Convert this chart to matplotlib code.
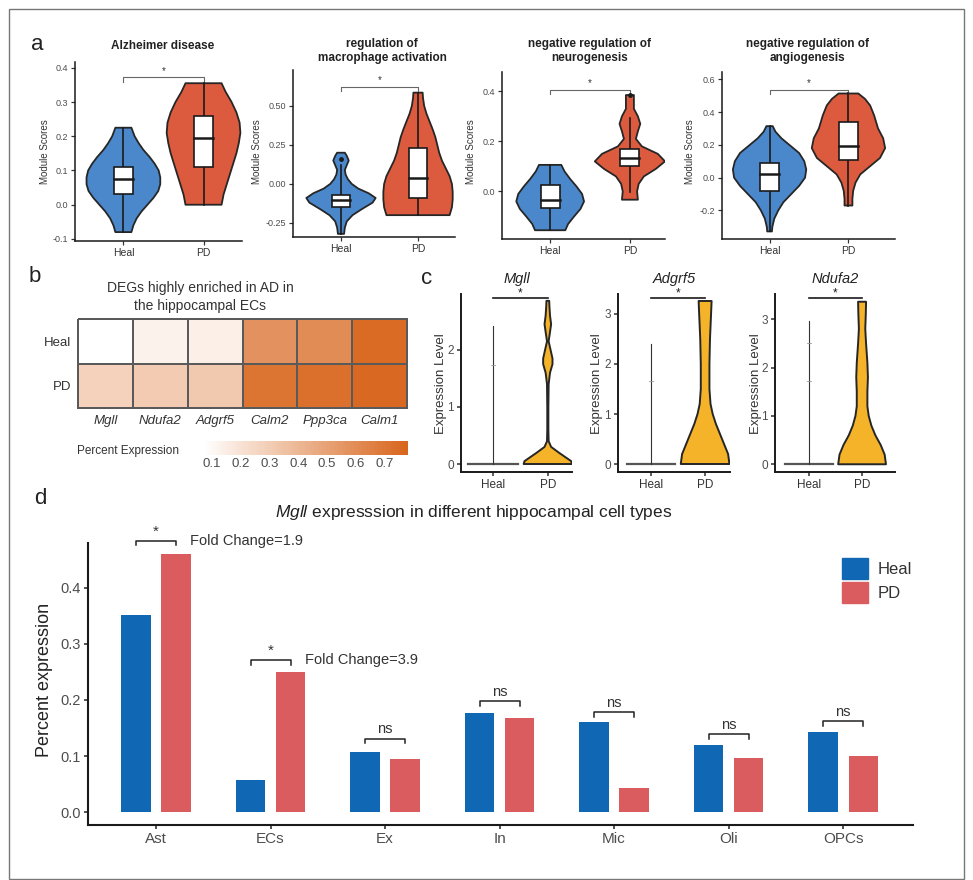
import numpy as np
import matplotlib
matplotlib.use("Agg")
import matplotlib.pyplot as plt
from matplotlib.patches import Rectangle, Patch
from matplotlib.colors import LinearSegmentedColormap

plt.rcParams['font.family'] = ['Liberation Sans', 'DejaVu Sans']
plt.rcParams['mathtext.fontset'] = 'custom'
plt.rcParams['mathtext.rm'] = 'Liberation Sans'
plt.rcParams['mathtext.it'] = 'Liberation Sans:italic'

# ---------------- data ----------------
groups = ["Heal", "PD"]

# panel a: module score violins (profile = y levels, full widths in x units)
a_titles = ["Alzheimer disease", "regulation of\nmacrophage activation",
            "negative regulation of\nneurogenesis", "negative regulation of\nangiogenesis"]
a_yticks = [[-0.1, 0.0, 0.1, 0.2, 0.3, 0.4], [-0.25, 0.0, 0.25, 0.5],
            [0.0, 0.2, 0.4], [-0.2, 0.0, 0.2, 0.4, 0.6]]
a_tickfmt = ["{:.1f}", "{:.2f}", "{:.1f}", "{:.1f}"]
a_heal_y = [
    [-0.08, -0.06, -0.04, -0.02, 0.0, 0.02, 0.04, 0.06, 0.08, 0.1, 0.12, 0.14, 0.16, 0.18, 0.2, 0.225],
    [-0.32, -0.28, -0.24, -0.2, -0.16, -0.12, -0.09, -0.06, -0.03, 0.0, 0.03, 0.06, 0.09, 0.12, 0.15, 0.18, 0.2],
    [-0.155, -0.13, -0.1, -0.07, -0.04, -0.01, 0.02, 0.05, 0.08, 0.106],
    [-0.328, -0.3, -0.25, -0.2, -0.15, -0.1, -0.05, 0.0, 0.05, 0.1, 0.15, 0.2, 0.24, 0.28, 0.314],
]
a_heal_w = [
    [0.2, 0.25, 0.33, 0.45, 0.6, 0.75, 0.87, 0.92, 0.92, 0.88, 0.78, 0.65, 0.5, 0.38, 0.28, 0.2],
    [0.08, 0.1, 0.15, 0.3, 0.55, 0.82, 0.9, 0.72, 0.45, 0.28, 0.18, 0.12, 0.1, 0.15, 0.2, 0.15, 0.1],
    [0.38, 0.45, 0.6, 0.76, 0.85, 0.8, 0.66, 0.5, 0.36, 0.28],
    [0.06, 0.07, 0.12, 0.22, 0.35, 0.55, 0.75, 0.9, 0.93, 0.88, 0.75, 0.5, 0.3, 0.15, 0.08],
]
a_pd_y = [
    [0.0, 0.03, 0.06, 0.09, 0.12, 0.15, 0.18, 0.21, 0.24, 0.27, 0.3, 0.33, 0.355],
    [-0.2, -0.15, -0.1, -0.05, 0.0, 0.05, 0.1, 0.15, 0.2, 0.25, 0.3, 0.35, 0.4, 0.45, 0.5, 0.55, 0.585],
    [-0.033, 0.0, 0.03, 0.06, 0.09, 0.12, 0.15, 0.18, 0.21, 0.24, 0.27, 0.3, 0.33, 0.36, 0.385],
    [-0.17, -0.13, -0.08, -0.03, 0.02, 0.07, 0.12, 0.18, 0.24, 0.3, 0.38, 0.44, 0.48, 0.513],
]
a_pd_w = [
    [0.45, 0.5, 0.58, 0.66, 0.74, 0.82, 0.88, 0.92, 0.9, 0.82, 0.7, 0.55, 0.45],
    [0.82, 0.88, 0.9, 0.9, 0.88, 0.82, 0.72, 0.62, 0.55, 0.5, 0.45, 0.38, 0.3, 0.22, 0.16, 0.13, 0.12],
    [0.2, 0.18, 0.22, 0.35, 0.65, 0.88, 0.7, 0.3, 0.15, 0.2, 0.26, 0.2, 0.1, 0.1, 0.1],
    [0.1, 0.1, 0.12, 0.18, 0.3, 0.55, 0.8, 0.93, 0.88, 0.75, 0.65, 0.55, 0.42, 0.25],
]
# box stats: low whisker, q1, median, q3, high whisker
a_heal_box = [[-0.08, 0.03, 0.075, 0.11, 0.225], [-0.32, -0.145, -0.105, -0.07, 0.12],
              [-0.155, -0.068, -0.036, 0.027, 0.106], [-0.328, -0.08, 0.02, 0.087, 0.314]]
a_pd_box = [[0.0, 0.11, 0.195, 0.26, 0.355], [-0.2, -0.09, 0.035, 0.23, 0.585],
            [-0.003, 0.1, 0.133, 0.17, 0.295], [-0.17, 0.107, 0.194, 0.34, 0.513]]
a_heal_out = [[], [0.16], [], []]
a_pd_out = [[], [], [0.385], []]
a_sig = [0.372, 0.62, 0.405, 0.537]

# panel b: percent expression heatmap
b_genes = ["Mgll", "Ndufa2", "Adgrf5", "Calm2", "Ppp3ca", "Calm1"]
b_heal = [0.07, 0.13, 0.145, 0.57, 0.6, 0.75]
b_pd = [0.28, 0.31, 0.32, 0.71, 0.73, 0.76]

# panel c: expression level violins
c_genes = ["Mgll", "Adgrf5", "Ndufa2"]
c_yticks = [[0, 1, 2], [0, 1, 2, 3], [0, 1, 2, 3]]
c_heal_max = [2.42, 2.4, 2.96]
c_heal_marks = [[1.74], [1.65], [1.72, 2.5]]
c_pd_y = [
    [0.0, 0.05, 0.1, 0.2, 0.3, 0.4, 0.6, 1.0, 1.4, 1.6, 1.75, 1.85, 2.0, 2.15, 2.25, 2.45, 2.6, 2.75, 2.86],
    [0.0, 0.2, 0.4, 0.6, 0.8, 1.0, 1.2, 1.5, 2.0, 2.5, 3.0, 3.26],
    [0.0, 0.2, 0.4, 0.6, 0.8, 1.0, 1.2, 1.5, 1.8, 2.1, 2.5, 2.8, 3.1, 3.36],
]
c_pd_w = [
    [0.88, 0.85, 0.7, 0.4, 0.12, 0.03, 0.02, 0.02, 0.03, 0.08, 0.17, 0.17, 0.1, 0.03, 0.06, 0.12, 0.08, 0.06, 0.05],
    [0.9, 0.85, 0.7, 0.55, 0.4, 0.28, 0.2, 0.16, 0.16, 0.18, 0.22, 0.24],
    [0.9, 0.85, 0.7, 0.5, 0.35, 0.25, 0.2, 0.2, 0.22, 0.2, 0.15, 0.12, 0.14, 0.15],
]

# panel d: Mgll percent expression per cell type
d_cells = ["Ast", "ECs", "Ex", "In", "Mic", "Oli", "OPCs"]
d_heal = [0.351, 0.057, 0.107, 0.177, 0.161, 0.120, 0.143]
d_pd = [0.461, 0.250, 0.095, 0.168, 0.043, 0.097, 0.100]
d_sig = ["*", "*", "ns", "ns", "ns", "ns", "ns"]
d_sig_y = [0.484, 0.271, 0.131, 0.198, 0.178, 0.139, 0.162]
d_fold = ["Fold Change=1.9", "Fold Change=3.9", "", "", "", "", ""]

BLUE_V, RED_V, ORANGE_V = "#4A88CB", "#DC5B3E", "#F5B32A"
BLUE_B, RED_B = "#1068B5", "#DA5C5E"

W, H = 973, 880
fig = plt.figure(figsize=(W / 100, H / 100), dpi=100)


def px_axes(l, t, r, b):
    return fig.add_axes([l / W, 1 - b / H, (r - l) / W, (b - t) / H])


def ftext(x, y, s, **kw):
    fig.text(x / W, 1 - y / H, s, **kw)


def classic(ax, lw=1.1, size=6.5):
    ax.spines['top'].set_visible(False)
    ax.spines['right'].set_visible(False)
    for s in ['left', 'bottom']:
        ax.spines[s].set_linewidth(lw)
        ax.spines[s].set_color('#1a1a1a')
    ax.tick_params(length=3, width=lw * 0.8, color='#333333', labelcolor='#4D4D4D',
                   labelsize=size, pad=2)


def violin(ax, x, ys, ws, color, lw=1.3):
    ys = np.array(ys)
    hw = np.array(ws) / 2
    xs = np.concatenate([x - hw, (x + hw)[::-1]])
    yy = np.concatenate([ys, ys[::-1]])
    ax.fill(xs, yy, facecolor=color, edgecolor='#262626', lw=lw, joinstyle='round', zorder=2)


# ---------------- panel a ----------------
a_box = [(75, 62, 242, 241), (293, 70, 455, 237), (502, 72, 665, 239), (722, 72, 895, 239)]
a_xlim = [(0.396, 2.48), (0.377, 2.48), (0.396, 2.44), (0.397, 2.59)]
a_ylim = [(-0.106, 0.417), (-0.34, 0.73), (-0.19, 0.477), (-0.374, 0.644)]
a_title_x = [163, 382, 590, 807]
a_title_y = [46, 51, 51, 51]
a_ylab_x = [45, 257, 471, 690]

for i in range(4):
    ax = px_axes(*a_box[i])
    ax.set_xlim(a_xlim[i])
    ax.set_ylim(a_ylim[i])
    classic(ax)
    sets = [(a_heal_y[i], a_heal_w[i], BLUE_V, a_heal_box[i], a_heal_out[i]),
            (a_pd_y[i], a_pd_w[i], RED_V, a_pd_box[i], a_pd_out[i])]
    bw = 0.24
    for g, (ys, ws, col, bx, outs) in enumerate(sets):
        x = g + 1
        violin(ax, x, ys, ws, col)
        lo, q1, med, q3, hi = bx
        ax.plot([x, x], [lo, hi], color='#1a1a1a', lw=1.2, zorder=3)
        ax.add_patch(Rectangle((x - bw / 2, q1), bw, q3 - q1, fc='white', ec='#1a1a1a', lw=1.2, zorder=4))
        ax.plot([x - bw / 2, x + bw / 2], [med, med], color='#1a1a1a', lw=1.8, zorder=5)
        for o in outs:
            ax.plot(x, o, 'o', ms=2.5, color='#1a1a1a', zorder=5)
    rng = a_ylim[i][1] - a_ylim[i][0]
    yb = a_sig[i]
    dy = 0.025 * rng
    ax.plot([1, 1, 2, 2], [yb - dy, yb, yb, yb - dy], color='#666666', lw=0.8, clip_on=False)
    ax.text(1.5, yb + 0.01 * rng, "*", ha='center', va='bottom', fontsize=7, color='#333333')
    ax.set_yticks(a_yticks[i])
    ax.set_yticklabels([a_tickfmt[i].format(v) for v in a_yticks[i]])
    ax.set_xticks([1, 2])
    ax.set_xticklabels(groups, fontsize=7.5, color='#333333')
    ftext(a_title_x[i], a_title_y[i], a_titles[i], ha='center', va='center', fontsize=8.5,
          fontweight='bold', color='#222222', linespacing=1.15)
    ftext(a_ylab_x[i], 152, "Module Scores", rotation=90, ha='center', va='center',
          fontsize=7, color='#333333')

# ---------------- panel b ----------------
cmap = LinearSegmentedColormap.from_list("wo", ["#FFFFFF", "#D8651C"])
axb = px_axes(78, 319, 407, 408)
mesh = axb.pcolormesh(np.array([b_heal, b_pd]), cmap=cmap, vmin=0.07, vmax=0.78,
                      edgecolors='#5A5A5A', linewidth=1.3)
mesh.set_clip_on(False)
axb.set_xlim(0, 6)
axb.set_ylim(2, 0)
for s in axb.spines.values():
    s.set_visible(False)
axb.set_xticks(np.arange(6) + 0.5)
axb.set_xticklabels(b_genes, fontstyle='italic', fontsize=9.5, color='#333333')
axb.set_yticks([0.5, 1.5])
axb.set_yticklabels(groups, fontsize=9.5, color='#333333')
axb.tick_params(length=0, pad=5)
ftext(200, 297, "DEGs highly enriched in AD in\nthe hippocampal ECs", ha='center', va='center',
      fontsize=10, color='#333333', linespacing=1.3)
cax = px_axes(203, 441, 408, 455)
cb = fig.colorbar(mesh, cax=cax, orientation='horizontal')
cb.outline.set_visible(False)
cb.set_ticks([0.1, 0.2, 0.3, 0.4, 0.5, 0.6, 0.7])
cb.ax.tick_params(length=0, labelsize=9.5, labelcolor='#4D4D4D', pad=2)
ftext(77, 451, "Percent Expression", ha='left', va='center', fontsize=8.5, color='#333333')

# ---------------- panel c ----------------
c_box = [(461, 294, 572, 472), (618, 294, 730, 472), (775, 294, 895, 472)]
c_xlim = [(0.42, 2.44), (0.39, 2.46), (0.36, 2.62)]
c_ylim = [(-0.14, 2.98), (-0.16, 3.4), (-0.16, 3.52)]
c_ylab_x = [441, 597, 756]
for i in range(3):
    ax = px_axes(*c_box[i])
    ax.set_xlim(c_xlim[i])
    ax.set_ylim(c_ylim[i])
    classic(ax, lw=1.4, size=8.5)
    # Heal: nearly all zeros
    ax.plot([0.55, 1.45], [0, 0], color='#555555', lw=1.6, zorder=3)
    ax.plot([1, 1], [0, c_heal_max[i]], color='#333333', lw=0.8, zorder=3)
    for m in c_heal_marks[i]:
        ax.plot([0.97, 1.03], [m, m], color='#999999', lw=0.6, zorder=3)
    violin(ax, 2, c_pd_y[i], c_pd_w[i], ORANGE_V, lw=1.4)
    top = c_ylim[i][1]
    yb = top - 0.02 * (top - c_ylim[i][0])
    ax.plot([1, 2], [yb, yb], color='#1a1a1a', lw=1.2, clip_on=False)
    ax.text(1.5, yb - 0.01 * (top - c_ylim[i][0]), "*", ha='center', va='bottom', fontsize=8.5,
            color='#1a1a1a')
    ax.set_yticks(c_yticks[i])
    ax.set_xticks([1, 2])
    ax.set_xticklabels(groups, fontsize=8.5, color='#333333')
    x0, x1 = c_box[i][0], c_box[i][2]
    ftext((x0 + x1) / 2, 279, c_genes[i], ha='center', va='center', fontsize=10.5,
          fontstyle='italic', color='#222222')
    ftext(c_ylab_x[i], 384, "Expression Level", rotation=90, ha='center', va='center',
          fontsize=9.5, color='#333333')

# ---------------- panel d ----------------
axd = px_axes(88, 543, 913, 825)
axd.set_xlim(-0.594, 6.61)
axd.set_ylim(-0.023, 0.48)
classic(axd, lw=1.5, size=10.5)
xd = np.arange(len(d_cells))
off, bwd = 0.175, 0.256
axd.bar(xd - off, d_heal, width=bwd, color=BLUE_B, label="Heal")
axd.bar(xd + off, d_pd, width=bwd, color=RED_B, label="PD")
for k in range(len(d_cells)):
    yb = d_sig_y[k]
    axd.plot([xd[k] - off, xd[k] - off, xd[k] + off, xd[k] + off],
             [yb - 0.008, yb, yb, yb - 0.008], color='#222222', lw=1.1, clip_on=False)
    axd.text(xd[k], yb + 0.004, d_sig[k], ha='center', va='bottom', fontsize=10.5 if d_sig[k] == "ns" else 11,
             color='#333333')
    if d_fold[k]:
        axd.text(xd[k] + 0.3, yb, d_fold[k], ha='left', va='center', fontsize=10.5, color='#333333')
axd.set_yticks([0.0, 0.1, 0.2, 0.3, 0.4])
axd.set_yticklabels(["0.0", "0.1", "0.2", "0.3", "0.4"])
axd.set_xticks(xd)
axd.set_xticklabels(d_cells, fontsize=11)
ftext(45, 680, "Percent expression", rotation=90, ha='center', va='center', fontsize=13, color='#222222')
ftext(474, 512, r"$\mathit{Mgll}$ expresssion in different hippocampal cell types", ha='center',
      va='center', fontsize=12.5, color='#222222')
axd.legend(handles=[Patch(color=BLUE_B, label="Heal"), Patch(color=RED_B, label="PD")],
           loc='upper left', bbox_to_anchor=(842 / W, 1 - 558 / H), bbox_transform=fig.transFigure,
           frameon=False, fontsize=12, handlelength=1.55, handleheight=1.55, borderpad=0,
           borderaxespad=0, labelspacing=0.18, handletextpad=0.6, labelcolor='#333333')

# panel letters
for lab, (x, y) in zip("abcd", [(37, 44), (35, 277), (427, 279), (40, 498)]):
    ftext(x, y, lab, ha='center', va='center', fontsize=16, color='#222222')

# frame
fig.patches.append(Rectangle((9 / W, 1 - 879 / H), (964 - 9) / W, (879 - 9) / H,
                             transform=fig.transFigure, fill=False, ec='#777777', lw=1))

fig.savefig("out.png", dpi=100)
